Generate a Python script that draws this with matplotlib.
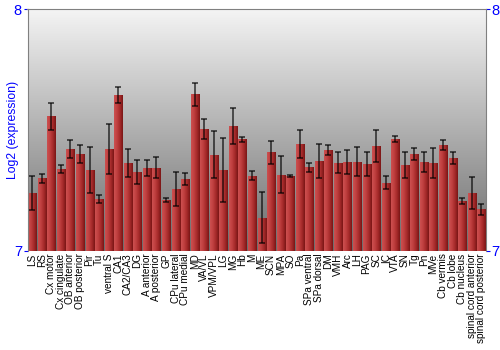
import matplotlib
matplotlib.use('Agg')
import matplotlib.pyplot as plt
import numpy as np

plt.rcParams['font.family'] = ['Liberation Sans', 'DejaVu Sans']

regions = ['LS', 'RS', 'Cx motor', 'Cx cingulate', 'OB anterior', 'OB posterior',
           'Pir', 'Tu', 'ventral S', 'CA1', 'CA2/CA3', 'DG', 'A anterior',
           'A posterior', 'GP', 'CPu lateral', 'CPu medial', 'MD', 'VA/VL',
           'VPM/VPL', 'LG', 'MG', 'Hb', 'M', 'ME', 'SCN', 'MPA', 'SO', 'Pa',
           'SPa ventral', 'SPa dorsal', 'DM', 'VMH', 'Arc', 'LH', 'PAG', 'SC',
           'IC', 'VTA', 'SN', 'Tg', 'Pn', 'MVe', 'Cb vermis', 'Cb lobe',
           'Cb nucleus', 'spinal cord anterior', 'spinal cord posterior']

# log2 expression
values = [7.239, 7.300, 7.557, 7.338, 7.421, 7.399, 7.334, 7.213, 7.421, 7.645,
          7.363, 7.325, 7.343, 7.344, 7.210, 7.256, 7.297, 7.649, 7.503, 7.398,
          7.334, 7.517, 7.461, 7.311, 7.137, 7.407, 7.315, 7.309, 7.442, 7.345,
          7.372, 7.418, 7.365, 7.367, 7.369, 7.359, 7.435, 7.282, 7.463, 7.356,
          7.401, 7.369, 7.363, 7.438, 7.384, 7.207, 7.238, 7.171]

errors = [0.071, 0.019, 0.055, 0.016, 0.037, 0.037, 0.095, 0.016, 0.105, 0.035,
          0.059, 0.049, 0.032, 0.044, 0.010, 0.070, 0.023, 0.048, 0.041, 0.099,
          0.134, 0.075, 0.010, 0.018, 0.104, 0.046, 0.076, 0.003, 0.058, 0.020,
          0.070, 0.021, 0.042, 0.051, 0.059, 0.049, 0.066, 0.028, 0.011, 0.054,
          0.026, 0.041, 0.064, 0.022, 0.023, 0.012, 0.066, 0.022]

ymin, ymax = 7, 8

fig = plt.figure(figsize=(5, 3.5), dpi=100)
ax = fig.add_axes([0.055, 0.284, 0.917, 0.689])

x = np.arange(len(regions))
ax.set_xlim(-0.5, len(regions) - 0.5)
ax.set_ylim(ymin, ymax)

# grey background gradient
bg = np.linspace(0, 1, 256).reshape(-1, 1)
bg_cmap = matplotlib.colors.LinearSegmentedColormap.from_list('bg', ['#6c6c6c', '#f4f4f4'])
ax.imshow(bg, cmap=bg_cmap, aspect='auto', origin='lower',
          extent=(-0.5, len(regions) - 0.5, ymin, ymax), zorder=0)

bars = ax.bar(x, np.array(values) - ymin, bottom=ymin, width=0.84,
              color='#b03030', edgecolor='none', zorder=1)

# horizontal shading inside each bar
bar_cmap = matplotlib.colors.LinearSegmentedColormap.from_list(
    'bar', ['#cc5050', '#c04040', '#a52a2a', '#7a1515'])
grad = np.linspace(0, 1, 64).reshape(1, -1)
for b in bars:
    x0 = b.get_x()
    x1 = x0 + b.get_width()
    im = ax.imshow(grad, cmap=bar_cmap, aspect='auto',
                   extent=(x0, x1, ymin, b.get_y() + b.get_height()), zorder=2)
    im.set_clip_path(b)

ax.errorbar(x, values, yerr=errors, fmt='none', ecolor='black', alpha=0.7,
            elinewidth=1.2, capsize=2.2, capthick=1.2, zorder=3)

ax.set_xticks(x)
ax.set_xticklabels(regions, rotation=90, fontsize=7.2)
ax.tick_params(axis='x', length=0, pad=2)

ax.set_yticks([7, 8])
ax.tick_params(axis='y', colors='blue', labelsize=10.5, length=3, pad=1,
               right=True, labelright=True)
for t in ax.get_yticklines():
    t.set_color('black')
ax.set_ylabel('Log2 (expression)', color='blue', fontsize=8.8, labelpad=-4)

for s in ['left', 'right', 'top']:
    ax.spines[s].set_color('#808080')
ax.spines['bottom'].set_visible(False)

fig.savefig('out.png', dpi=100)
